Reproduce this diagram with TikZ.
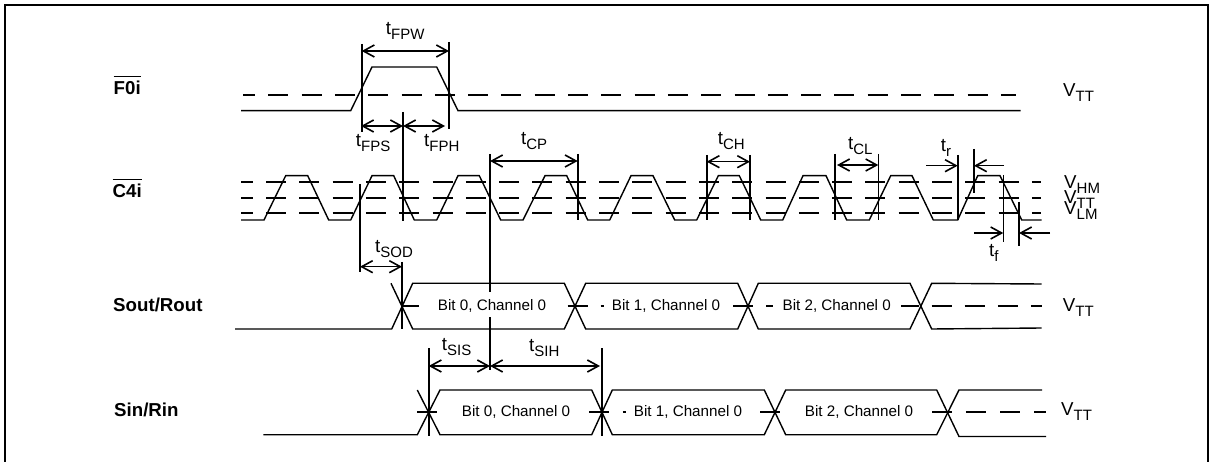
\documentclass[tikz,border=0pt]{standalone}
\usepackage{fontspec}
\setmainfont{Liberation Sans}
\usetikzlibrary{arrows.meta}

\newcommand{\subtext}[2]{#1\raisebox{-5pt}{\fontsize{15}{15}\selectfont #2}}
\newcommand{\barname}[1]{$\overline{\hbox{\rule{0pt}{17.5pt}\bfseries #1}}$}

\tikzset{
	signal/.style = {line width=1.4pt},
	level/.style = {line width=1.7pt, dash pattern=on 20pt off 13.3pt},
	marker/.style = {line width=1.6pt},
	bitbox/.style = {fill=white, inner sep=0pt, minimum height=25pt, text height=12pt, text depth=1pt, font=\fontsize{15.2}{18}\selectfont},
	lbl/.style = {anchor=base west, inner sep=0pt, font=\fontsize{18.7}{22}\selectfont},
	sig/.style = {lbl, font=\fontsize{18.7}{22}\selectfont\bfseries},
}

\begin{document}
\begin{tikzpicture}[x=1pt, y=-1pt, > = {Straight Barb[length=11pt, width=12pt]}]
	\useasboundingbox (0,0) rectangle (1210,462);
	\draw[line width=2pt] (4.5,462) -- (4.5,5) -- (1208,5) -- (1208,462); % frame

	% reference levels
	\draw[level, dash phase=8pt] (243,95) -- (1016,95);
	\foreach \y in {182,198,213}
		\draw[level, dash phase=8.3pt] (241,\y) -- (1041,\y);
	\draw[level, dash pattern=on 20pt off 13.1pt] (402,305.7) -- (1041.7,305.7);
	\draw[level, dash pattern=on 20pt off 14.3pt] (417,411.7) -- (1046,411.7);

	% F0i
	\draw[signal] (241,110.7) -- (350.7,110.7) -- (372,67) -- (436.7,67) -- (458,110.7) -- (1020.7,110.7);
	% C4i
	\draw[signal] (241,220) -- (264,220) -- (285.7,175.7) -- (307.7,175.7) -- (328.7,220) -- (350.7,220)
		-- (372,175.7) -- (393.7,175.7) -- (414.3,220) -- (436.7,220)
		-- (458,175.7) -- (479.3,175.7) -- (500.7,220) -- (523,220)
		-- (545,175.7) -- (566.7,175.7) -- (587.7,220) -- (609.7,220)
		-- (631,175.7) -- (653,175.7) -- (674.7,220) -- (696.7,220)
		-- (718.3,175.7) -- (739.3,175.7) -- (760.7,220) -- (782.7,220)
		-- (803,175.7) -- (826,175.7) -- (846.7,220) -- (869.3,220)
		-- (890.7,175.7) -- (912,175.7) -- (933.3,220) -- (957.7,220)
		-- (977.7,175.7) -- (1000,175.7) -- (1021.7,220) -- (1041.7,220);
	% Sout/Rout
	\draw[signal] (235,329) -- (391.7,329) -- (412.7,283.3) -- (564.3,283.3) -- (585.7,329) -- (737.7,329)
		-- (758.3,283.3) -- (910,283.3) -- (931.7,329) -- (1041.7,328);
	\draw[signal] (391,283.3) -- (412.7,329) -- (564.3,329) -- (585.7,283.3) -- (737.7,283.3)
		-- (758.3,329) -- (910,329) -- (931.7,283.3) -- (1041.7,284);
	% Sin/Rin
	\draw[signal] (263.3,434.7) -- (417.3,434.7) -- (440,390) -- (591.7,390) -- (612.3,434.7) -- (764.3,434.7)
		-- (785.7,390) -- (936.7,390) -- (959,436.5) -- (1046,436.5);
	\draw[signal] (417.3,390) -- (440,434.7) -- (591.7,434.7) -- (612.3,390) -- (764.3,390)
		-- (785.7,434.7) -- (936.7,434.7) -- (959,390) -- (1042,390);

	% vertical markers
	\foreach \x/\a/\b in {361.7/44/131.7, 449/42/129, 403/112/220.7, 490/154/370, 577.7/154/220,
		360/184/271.7, 402/262/329, 428.7/348/435.7, 602/348/435.7,
		706.7/155/220, 750/155/220, 835/154/220, 878.3/154/220,
		957.7/155/220, 974/149/193, 1003.3/175/241.7, 1019/202/245.7}
		\draw[marker] (\x,\a) -- (\x,\b);

	% dimension arrows
	\draw[<->, marker] (361.7,51) -- (449,51);
	\draw[<->, marker] (361,126) -- (403,126);
	\draw[<->, marker] (403,126) -- (445,126);
	\draw[<->, marker] (490,161) -- (577.7,161);
	\draw[<->, marker] (706.7,161.7) -- (750,161.7);
	\draw[<->, marker] (837,165) -- (878.3,165);
	\draw[->, marker] (926,165.7) -- (957.7,165.7);
	\draw[->, marker] (1004,165.7) -- (974,165.7);
	\draw[->, marker] (974,233) -- (1003.3,233);
	\draw[->, marker] (1050,233) -- (1019,233);
	\draw[<->, marker] (360,266.7) -- (402,266.7);
	\draw[<->, marker] (428.7,366) -- (490,366);
	\draw[<->, marker] (490,366) -- (600,366);

	% bit fields
	\node[bitbox, minimum width=146pt] (so0) at (492,304.5) {Bit 0, Channel 0};
	\node[bitbox, minimum width=124pt] (so1) at (666,304.5) {Bit 1, Channel 0};
	\node[bitbox, minimum width=128pt] (so2) at (836.7,304.5) {Bit 2, Channel 0};
	\node[bitbox, minimum width=146pt] (si0) at (516,410.5) {Bit 0, Channel 0};
	\node[bitbox, minimum width=124pt] (si1) at (688,410.5) {Bit 1, Channel 0};
	\node[bitbox, minimum width=146pt] (si2) at (859,410.5) {Bit 2, Channel 0};

	% signal names
	\node[sig] (f0i) at (113.5,95) {\barname{F0i}};
	\node[sig] (c4i) at (112.5,198) {\barname{C4i}};
	\node[sig] (sout) at (113,312) {Sout/Rout};
	\node[sig] (sin) at (114,416) {Sin/Rin};

	% timing names
	\foreach \x/\y/\s in {385.7/35/FPW, 355.7/146.7/FPS, 424/147/FPH, 521/145/CP, 717.7/145/CH, 848/150/CL,
		940.7/151.7/r, 989/256.7/f, 375/252.7/SOD, 441.7/350.7/SIS, 529/351.7/SIH}
		\node[lbl] (t\s) at (\x,\y) {\subtext{t}{\s}};

	% voltage names
	\node[lbl] (vtta) at (1063,96.7) {\subtext{V}{TT}};
	\node[lbl] (vhm) at (1064,189) {\subtext{V}{HM}};
	\node[lbl] (vttb) at (1064,204) {\subtext{V}{TT}};
	\node[lbl] (vlm) at (1064,215) {\subtext{V}{LM}};
	\node[lbl] (vttc) at (1062.7,311.7) {\subtext{V}{TT}};
	\node[lbl] (vttd) at (1061,415.5) {\subtext{V}{TT}};
\end{tikzpicture}
\end{document}
